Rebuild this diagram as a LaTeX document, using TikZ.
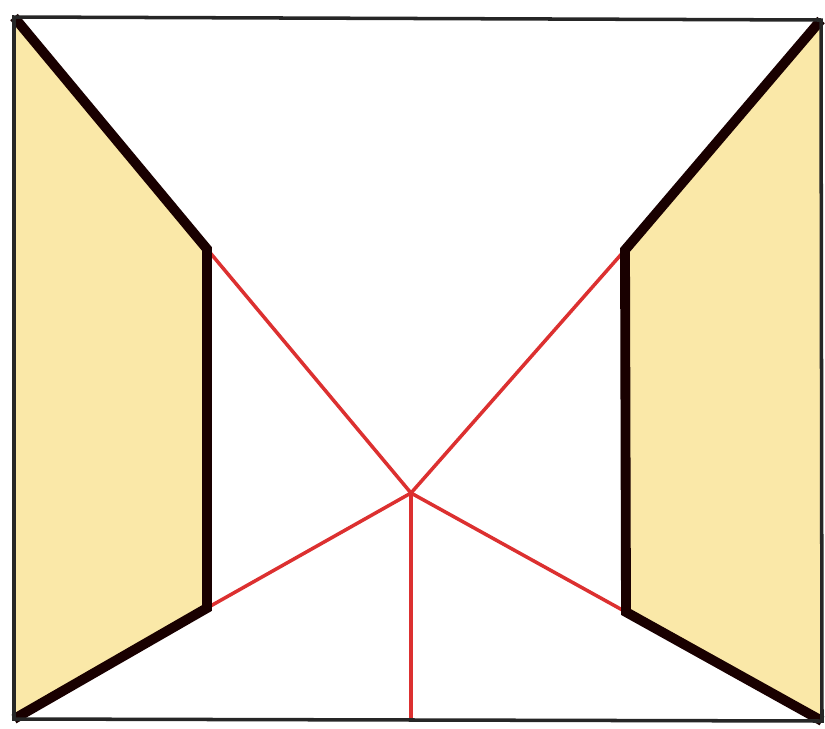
\documentclass[tikz,border=0pt]{standalone}
\definecolor{wallyellow}{RGB}{250,232,168}
\definecolor{rayred}{RGB}{220,48,48}

\begin{document}
\begin{tikzpicture}[x=0.02cm, y=-0.02cm, wall/.style={fill=wallyellow}, edge/.style={line width=5.6pt, line join=miter, black!90!red}, ray/.style={line width=2pt, rayred}, frame/.style={line width=2pt, black!85}]
\useasboundingbox (0,0) rectangle (825,728);
% corners of the room
\coordinate (tl) at (14,17);
\coordinate (tr) at (821,20);
\coordinate (bl) at (14,719);
\coordinate (br) at (822,721);
\coordinate (ltop) at (207,249);
\coordinate (lbot) at (207,608);
\coordinate (rtop) at (625,250);
\coordinate (rbot) at (626,612);
\coordinate (vp) at (411,493);
\coordinate (floor) at (411,720);
% side walls
\fill[wall] (tl) -- (ltop) -- (lbot) -- (bl) -- cycle;
\fill[wall] (tr) -- (rtop) -- (rbot) -- (br) -- cycle;
% lines to the vanishing point
\draw[ray] (vp) -- (ltop);
\draw[ray] (vp) -- (rtop);
\draw[ray] (vp) -- (lbot);
\draw[ray] (vp) -- (rbot);
\draw[ray] (vp) -- (floor);
% wall edges
\draw[edge] (tl) -- (ltop) -- (lbot) -- (bl);
\draw[edge] (tr) -- (rtop) -- (rbot) -- (br);
\draw[frame] (tl) -- (tr) -- (br) -- (bl) -- cycle;
\end{tikzpicture}
\end{document}
